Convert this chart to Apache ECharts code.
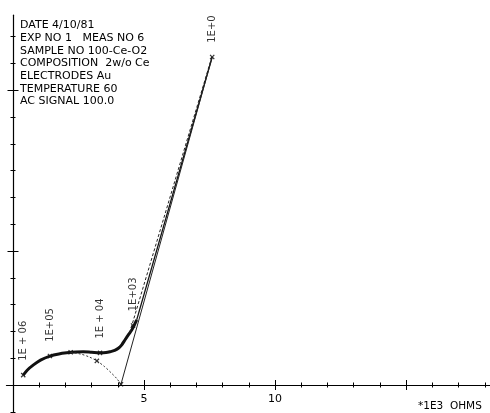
<!DOCTYPE html>
<html>
<head>
<meta charset="utf-8">
<script src="https://cdn.jsdelivr.net/npm/echarts@6/dist/echarts.min.js"></script>
<style>
html,body{margin:0;padding:0;background:#fff;}
#chart{width:490px;height:413px;}
</style>
</head>
<body>
<div id="chart"></div>
<script>
// Header text lines
const headerLines = [
  'DATE 4/10/81',
  'EXP NO 1   MEAS NO 6',
  'SAMPLE NO 100-Ce-O2',
  'COMPOSITION  2w/o Ce',
  'ELECTRODES Au',
  'TEMPERATURE 60',
  'AC SIGNAL 100.0'
];
const axisUnitLabel = '*1E3  OHMS';

// Measured impedance (Z' , -Z'') in kOhm
const measX = [0.39, 0.55, 0.78, 1.05, 1.41, 1.75, 2.05, 2.4, 2.68, 3.0, 3.32, 3.55, 3.70, 3.88, 4.02, 4.15, 4.27, 4.40, 4.53, 4.62, 4.72];
const measY = [0.37, 0.56, 0.75, 0.93, 1.08, 1.16, 1.20, 1.23, 1.24, 1.22, 1.20, 1.21, 1.24, 1.29, 1.37, 1.50, 1.68, 1.87, 2.05, 2.22, 2.43];

// Upper (low frequency) branch
const upperX = [4.72, 7.60];
const upperY = [2.43, 12.24];
const upper2X = [4.45, 7.58];
const upper2Y = [1.95, 12.22];

// Fitted arc and fitted line
const arcX = [2.2, 2.6, 2.9, 3.2, 3.5, 3.75, 3.95, 4.12];
const arcY = [1.22, 1.15, 1.05, 0.90, 0.68, 0.45, 0.25, 0.03];
const fitLineX = [4.12, 7.60];
const fitLineY = [0.03, 12.24];

// Frequency markers
const freqX = [0.39, 1.41, 3.32, 4.58, 7.60];
const freqY = [0.37, 1.08, 1.20, 2.22, 12.24];
const freqLabels = ['1E + 06', '1E+05', '1E + 04', '1E+03', '1E+0'];
const extraMarkX = [3.2, 4.12, 2.2];
const extraMarkY = [0.90, 0.03, 1.22];

// Axis ticks
const xMinorTicks = [1,2,3,4,5,6,7,8,9,10,11,12,13,14,15,16,17,18];
const xMajorTicks = [5,10,15];
const xTickLabels = [5,10];
const yMinorTicks = [-1,1,2,3,4,5,6,7,8,9,10,11,12,13];
const yMajorTicks = [5,11];

const zip = (a,b) => a.map((v,i)=>[v,b[i]]);
const FONT = 'DejaVu Sans';
const crossPath = 'path://M4,0h2v4h4v2h-4v4h-2v-4h-4v-2h4z';

function xAx(ticks, len, inside, showLine, labels) {
  return {
    type:'value', min:-0.25, max:18.2, position:'bottom',
    axisLine:{show:showLine, onZero:true, lineStyle:{color:'#000', width:1.2}},
    axisTick:{show:true, customValues:ticks, length:len, inside:inside, lineStyle:{color:'#000', width:1}},
    axisLabel: labels ? {show:true, customValues:labels, margin:-18.5, color:'#000', fontSize:11, fontFamily:FONT} : {show:false},
    splitLine:{show:false}
  };
}
function yAx(ticks, len, inside, showLine) {
  return {
    type:'value', min:-1, max:13.8, position:'left',
    axisLine:{show:showLine, onZero:true, lineStyle:{color:'#000', width:1.2}},
    axisTick:{show:true, customValues:ticks, length:len, inside:inside, lineStyle:{color:'#000', width:1}},
    axisLabel:{show:false},
    splitLine:{show:false}
  };
}

const chart = echarts.init(document.getElementById('chart'), null, {renderer:'canvas'});
chart.setOption({
  animation:false,
  backgroundColor:'#fff',
  textStyle:{fontFamily:FONT},
  grid:{left:6.45, right:0, top:15.2, bottom:1.2, containLabel:false, outerBoundsMode:'none'},
  xAxis:[
    xAx(xMinorTicks, 2.5, false, true, xTickLabels),
    xAx(xMinorTicks, 2.5, true, false, null),
    xAx(xMajorTicks, 5, false, false, null),
    xAx(xMajorTicks, 5, true, false, null)
  ],
  yAxis:[
    yAx(yMinorTicks, 2.5, false, true),
    yAx(yMinorTicks, 2.5, true, false),
    yAx(yMajorTicks, 5.5, false, false),
    yAx(yMajorTicks, 5.5, true, false)
  ],
  graphic:[
    {type:'text', left:20, top:19, style:{text:headerLines.join('\n'), fill:'#000', font:'11px "DejaVu Sans"', lineHeight:12.7}},
    {type:'text', left:418, top:401, style:{text:axisUnitLabel, fill:'#000', font:'10.5px "DejaVu Sans"'}}
  ],
  series:[
    {type:'line', data:zip(measX, measY), smooth:0.3, symbol:'none',
     lineStyle:{color:'#111', width:3}},
    {type:'line', data:zip(upperX, upperY), symbol:'none', lineStyle:{color:'#111', width:1.3}},
    {type:'line', data:zip(upper2X, upper2Y), symbol:'none', lineStyle:{color:'#222', width:1, type:[3,2]}},
    {type:'line', data:zip(arcX, arcY), smooth:0.3, symbol:'none', lineStyle:{color:'#333', width:1, type:[2,2]}},
    {type:'line', data:zip(fitLineX, fitLineY), symbol:'none', lineStyle:{color:'#222', width:1}},
    {type:'scatter', data:zip(freqX, freqY), symbol:crossPath, symbolSize:6, symbolRotate:45,
     itemStyle:{color:'#000'},
     label:{show:true, rotate:90, position:'top', distance:10, align:'left', verticalAlign:'middle',
       formatter:(p)=>freqLabels[p.dataIndex], color:'#000', fontSize:10, fontFamily:FONT}},
    {type:'scatter', data:zip(extraMarkX, extraMarkY), symbol:crossPath, symbolSize:6, symbolRotate:45,
     itemStyle:{color:'#000'}}
  ]
});
</script>
</body>
</html>
